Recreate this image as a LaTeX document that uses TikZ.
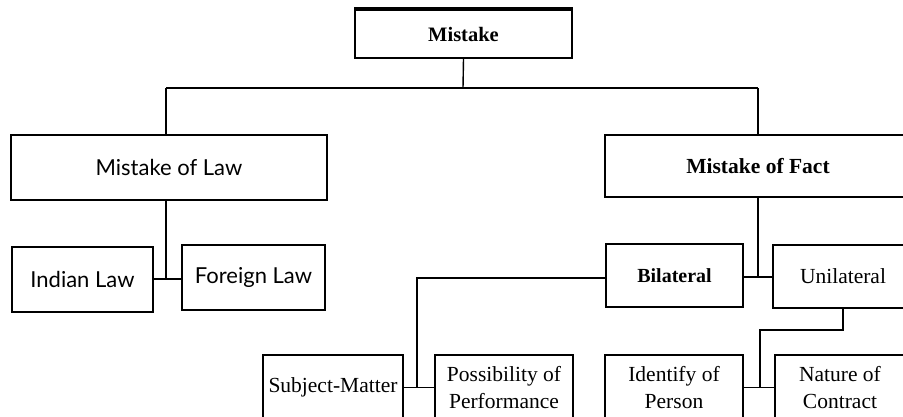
\documentclass[tikz,border=0pt]{standalone}
\usepackage{fontspec}
\setmainfont{Liberation Serif}
\newfontfamily\optfont{Lato}
\begin{document}
\begin{tikzpicture}[x=1pt,y=-1pt,
  box/.style={draw, line width=1.6pt, inner sep=0pt, align=center, font=\fontsize{21.5}{27.5}\selectfont},
  sbox/.style={box, font=\optfont\fontsize{22}{26}\selectfont},
  conn/.style={line width=1.4pt}]
\useasboundingbox (0,0) rectangle (903,416);
\clip (0,0) rectangle (903,416);
% top
\node[box, minimum width=217pt, minimum height=48pt, font=\bfseries\fontsize{20.5}{24}\selectfont] (mistake) at (463.5,34) {Mistake};
\draw[line width=3.5pt] (mistake.north west) -- (mistake.north east);
% level 2
\node[sbox, minimum width=316pt, minimum height=65pt] (mol) at (169,167.5) {Mistake of Law};
\node[box, minimum width=306pt, minimum height=62pt, font=\bfseries\fontsize{21.5}{26}\selectfont] (mof) at (758,166) {Mistake of Fact};
% level 3 left
\node[sbox, minimum width=141pt, minimum height=65pt] (indian) at (82.5,279.5) {Indian Law};
\node[sbox, minimum width=143pt, minimum height=65pt] (foreign) at (253.5,277.5) {Foreign Law};
% level 3 right
\node[box, minimum width=137pt, minimum height=63pt, font=\bfseries\fontsize{20}{24}\selectfont] (bilat) at (674.5,275.5) {Bilateral};
\node[box, minimum width=140pt, minimum height=63pt] (unilat) at (843,276.5) {Unilateral};
% level 4
\node[box, minimum width=140pt, minimum height=65pt] (subj) at (333,387.5) {Subject-Matter};
\node[box, minimum width=138pt, minimum height=65pt] (poss) at (504,387.5) {Possibility of\\Performance};
\node[box, minimum width=138pt, minimum height=65pt] (ident) at (674,387.5) {Identify of\\Person};
\node[box, minimum width=130pt, minimum height=65pt] (nature) at (840,387.5) {Nature of\\Contract};
% junctions
\coordinate (j0) at (463,88);
\coordinate (jl) at (166,88);
\coordinate (jr) at (758,88);
\coordinate (jlaw) at (166,279);
\coordinate (jfact) at (758,277);
\coordinate (jb) at (417,278);
\coordinate (jb2) at (417,387);
\coordinate (ju) at (843,330);
\coordinate (ju2) at (760,330);
\coordinate (ju3) at (760,387);
% connectors
\draw[conn] (mistake.south) -- (j0);
\draw[conn] (jl) -- (jr);
\draw[conn] (jl) -- (mol.north -| jl);
\draw[conn] (jr) -- (mof.north -| jr);
\draw[conn] (mol.south -| jlaw) -- (jlaw);
\draw[conn] (indian.east |- jlaw) -- (foreign.west |- jlaw);
\draw[conn] (mof.south -| jfact) -- (jfact);
\draw[conn] (bilat.east |- jfact) -- (unilat.west |- jfact);
\draw[conn] (bilat.west |- jb) -- (jb) -- (jb2);
\draw[conn] (subj.east) -- (poss.west);
\draw[conn] (unilat.south -| ju) -- (ju) -- (ju2) -- (ju3);
\draw[conn] (ident.east) -- (nature.west);
\end{tikzpicture}
\end{document}
